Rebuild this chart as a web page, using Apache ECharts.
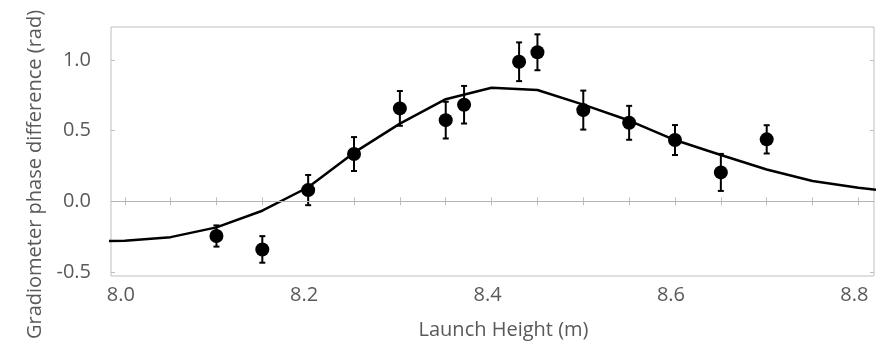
<!DOCTYPE html>
<html>
<head>
<meta charset="utf-8">
<script src="https://cdn.jsdelivr.net/npm/echarts@6/dist/echarts.min.js"></script>
<style>html,body{margin:0;padding:0;background:#fff;}#c{width:885px;height:346px;}</style>
</head>
<body>
<div id="c"></div>
<script>
// Measured data points (launch height, phase difference, error)
const pointX = [8.10, 8.15, 8.20, 8.25, 8.30, 8.35, 8.37, 8.43, 8.45, 8.50, 8.55, 8.60, 8.65, 8.70];
const pointY = [-0.245, -0.34, 0.08, 0.335, 0.658, 0.575, 0.684, 0.988, 1.055, 0.646, 0.556, 0.434, 0.205, 0.439];
const pointErr = [0.075, 0.094, 0.107, 0.12, 0.123, 0.13, 0.133, 0.137, 0.127, 0.138, 0.12, 0.106, 0.131, 0.1];
// Model curve
const curveX = [7.95, 8.00, 8.05, 8.10, 8.15, 8.20, 8.25, 8.30, 8.35, 8.40, 8.45, 8.50, 8.55, 8.60, 8.65, 8.70, 8.75, 8.80, 8.85];
const curveY = [-0.283, -0.278, -0.253, -0.184, -0.066, 0.10, 0.345, 0.55, 0.723, 0.804, 0.788, 0.685, 0.572, 0.434, 0.328, 0.226, 0.144, 0.096, 0.06];
// Axis ticks
const xLabelTicks = [8.0, 8.2, 8.4, 8.6, 8.8];
const xMinorTicks = [8.0, 8.05, 8.1, 8.15, 8.2, 8.25, 8.3, 8.35, 8.4, 8.45, 8.5, 8.55, 8.6, 8.65, 8.7, 8.75, 8.8];
const yTicks = [-0.5, 0.0, 0.5, 1.0];

const textColor = '#595959';
const frameColor = '#bfbfbf';
const font = 'Open Sans';

const scatterData = pointX.map((x, i) => [x, pointY[i]]);
const errData = pointX.map((x, i) => [x, pointY[i] - pointErr[i], pointY[i] + pointErr[i]]);
const curveData = curveX.map((x, i) => [x, curveY[i]]);

const xCommon = {
  type: 'value', min: 7.985, max: 8.817,
  axisLine: { show: false },
  splitLine: { show: false },
  axisTick: { show: true, inside: true, length: 4, customValues: xMinorTicks, lineStyle: { color: frameColor } }
};
const yCommon = {
  type: 'value', min: -0.528, max: 1.234,
  axisLine: { show: false },
  splitLine: { show: false },
  axisTick: { show: true, inside: true, length: 4, customValues: yTicks, lineStyle: { color: frameColor } }
};

const chart = echarts.init(document.getElementById('c'));
chart.setOption({
  animation: false,
  backgroundColor: '#fff',
  grid: { left: 111, right: 11, top: 27, bottom: 70, show: true, borderColor: frameColor, borderWidth: 1, backgroundColor: 'transparent' },
  xAxis: [
    Object.assign({}, xCommon, {
      position: 'bottom',
      name: 'Launch Height (m)', nameLocation: 'middle', nameGap: 44,
      nameTextStyle: { fontFamily: font, fontSize: 20, color: textColor, padding: [0, 0, 0, 22] },
      axisLabel: { customValues: xLabelTicks, formatter: v => v.toFixed(1), fontFamily: font, fontSize: 20, color: textColor, margin: 9, padding: [0, 8, 0, 0] }
    }),
    Object.assign({}, xCommon, { position: 'top', axisLabel: { show: false } })
  ],
  yAxis: [
    Object.assign({}, yCommon, {
      position: 'left',
      name: 'Gradiometer phase difference (rad)', nameLocation: 'middle', nameGap: 64,
      nameTextStyle: { fontFamily: font, fontSize: 20, color: textColor, padding: [0, 46, 0, 0] },
      axisLabel: { customValues: yTicks, formatter: v => v.toFixed(1), fontFamily: font, fontSize: 20, color: textColor, margin: 20 }
    }),
    Object.assign({}, yCommon, { position: 'right', axisLabel: { show: false } })
  ],
  series: [
    {
      type: 'line', data: curveData, symbol: 'none', clip: true, z: 2,
      lineStyle: { color: '#000', width: 2.5 },
      markLine: { silent: true, symbol: 'none', label: { show: false }, lineStyle: { color: '#b3b3b3', width: 1, type: 'solid' }, data: [{ yAxis: 0 }] }
    },
    {
      type: 'custom', z: 3, data: errData, silent: true,
      renderItem: function (params, api) {
        const x = api.value(0);
        const lo = api.coord([x, api.value(1)]);
        const hi = api.coord([x, api.value(2)]);
        const cap = 3;
        const style = { stroke: '#000', lineWidth: 2 };
        return {
          type: 'group', children: [
            { type: 'line', shape: { x1: lo[0], y1: lo[1], x2: hi[0], y2: hi[1] }, style: style },
            { type: 'line', shape: { x1: lo[0] - cap, y1: lo[1], x2: lo[0] + cap, y2: lo[1] }, style: style },
            { type: 'line', shape: { x1: hi[0] - cap, y1: hi[1], x2: hi[0] + cap, y2: hi[1] }, style: style }
          ]
        };
      }
    },
    {
      type: 'scatter', data: scatterData, symbol: 'circle', symbolSize: 14, z: 4, silent: true,
      itemStyle: { color: '#000', opacity: 1 }
    }
  ]
});
</script>
</body>
</html>
